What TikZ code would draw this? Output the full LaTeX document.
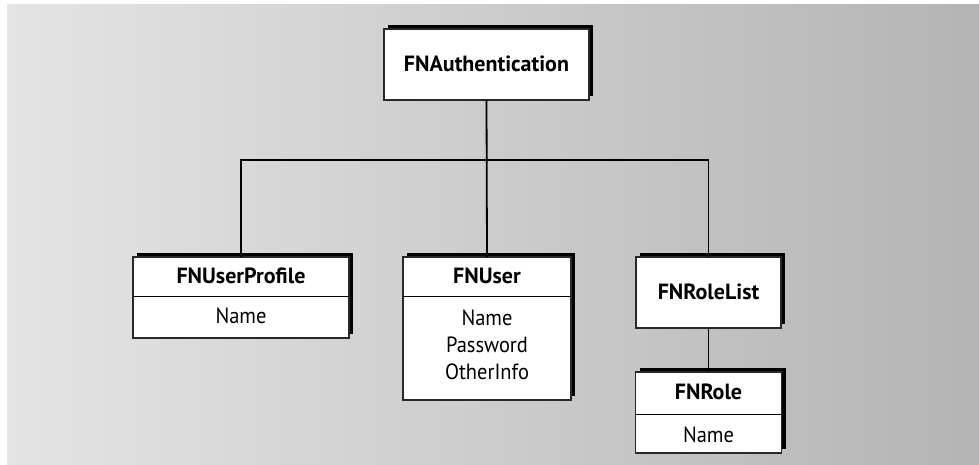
\documentclass[tikz,border=0pt]{standalone}
\usepackage{fontspec}
\setmainfont{PT Sans}
\newfontfamily\regf{PT Sans}[FakeStretch=0.93]
\newfontfamily\boldf{PT Sans}
\usetikzlibrary{shadows}
\definecolor{bgL}{RGB}{228,228,228}
\definecolor{bgR}{RGB}{180,180,180}
\definecolor{edge}{RGB}{40,40,40}
\tikzset{
  box/.style={draw=edge, line width=1.1pt, fill=white, inner sep=0pt, outer sep=0pt,
    drop shadow={shadow xshift=4pt, shadow yshift=4pt, fill=black, opacity=1}},
  lab/.style={anchor=base, inner sep=0pt, font=\regf\fontsize{22}{27}\selectfont},
  tlab/.style={anchor=base, inner sep=0pt, font=\boldf\bfseries\fontsize{22}{27}\selectfont},
  conn/.style={line width=1.8pt, black},
  divider/.style={line width=1pt, black}
}
\begin{document}
\begin{tikzpicture}[x=1pt,y=-1pt]
\useasboundingbox (0,0) rectangle (979,465);
\fill[white] (0,0) rectangle (979,465);
\shade[left color=bgL, right color=bgR] (7,5) rectangle (979,465);

% boxes
\node[box, minimum width=205pt, minimum height=71pt] (A) at (486.5,64.5) {};
\node[box, minimum width=216pt, minimum height=81pt] (UP) at (241,297.5) {};
\node[box, minimum width=168pt, minimum height=143pt] (U) at (487,328.5) {};
\node[box, minimum width=145pt, minimum height=71pt] (RL) at (708.5,292.5) {};
\node[box, minimum width=146pt, minimum height=81pt] (R) at (708.5,412.5) {};

% dividers
\draw[divider] (UP.west |- 0,296) -- (UP.east |- 0,296);
\draw[divider] (U.west |- 0,296) -- (U.east |- 0,296);
\draw[divider] (R.west |- 0,414) -- (R.east |- 0,414);

% labels
\node[tlab] (tA) at (486.5,72) {FNAuthentication};
\node[tlab] (tUP) at (241,283) {FNUserProfile};
\node[lab] (nUP) at (241,323) {Name};
\node[tlab] (tU) at (487,283) {FNUser};
\node[lab] (nU1) at (487,325) {Name};
\node[lab] (nU2) at (487,352) {Password};
\node[lab] (nU3) at (487,379) {OtherInfo};
\node[tlab] (tRL) at (708.5,299) {FNRoleList};
\node[tlab] (tR) at (708.5,399) {FNRole};
\node[lab] (nR) at (708.5,442) {Name};

% connectors
\coordinate (bus) at (487,160);
\draw[conn] (A.south) -- (U.north);
\draw[conn] (UP.north) -- (UP.north |- bus) -- (RL.north |- bus) -- (RL.north);
\draw[line width=1.4pt] (RL.south) -- (R.north);
\end{tikzpicture}
\end{document}
